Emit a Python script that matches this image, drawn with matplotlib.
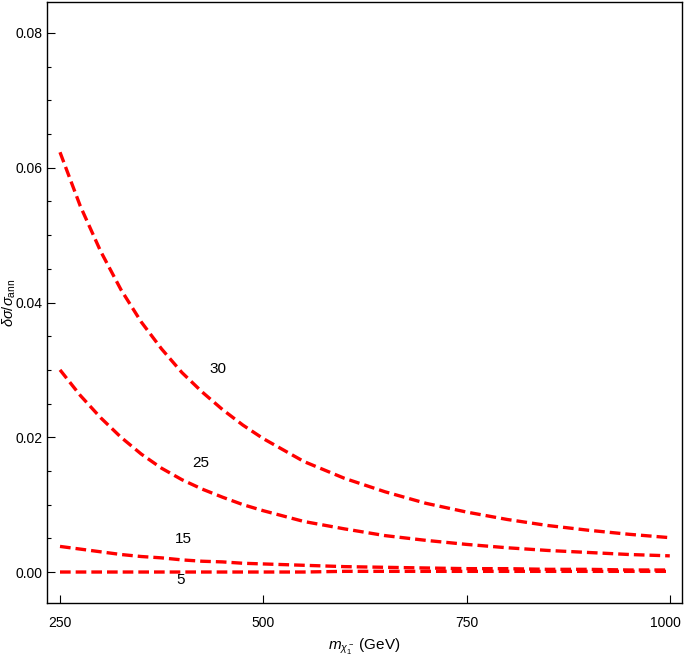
import matplotlib
matplotlib.use("Agg")
import matplotlib.pyplot as plt
from matplotlib.ticker import MultipleLocator, FixedLocator
from matplotlib.transforms import ScaledTranslation

mass = [250, 275, 300, 325, 350, 375, 400, 425, 450, 475, 500,
        550, 600, 650, 700, 750, 800, 850, 900, 950, 1000]
curve_30 = [0.0623, 0.0543, 0.0476, 0.0419, 0.0371, 0.0331, 0.0296, 0.0267, 0.0241, 0.0218, 0.0198,
            0.0164, 0.0139, 0.0119, 0.0102, 0.0089, 0.0078, 0.0069, 0.0062, 0.0056, 0.0051]
curve_25 = [0.0300, 0.0262, 0.0229, 0.0200, 0.0175, 0.0154, 0.0137, 0.0123, 0.0111, 0.0100, 0.0091,
            0.0075, 0.0064, 0.0054, 0.0047, 0.0041, 0.0036, 0.0032, 0.0029, 0.0026, 0.0024]
curve_15 = [0.0038, 0.0034, 0.0030, 0.0026, 0.0023, 0.0021, 0.0018, 0.0016, 0.0015, 0.0013, 0.0012,
            0.0010, 0.0008, 0.0007, 0.0006, 0.0005, 0.0005, 0.0004, 0.0004, 0.0003, 0.0003]
curve_5 = [0.0000, 0.0000, 0.0000, 0.0000, 0.0000, 0.0000, 0.0000, 0.0000, 0.0000, 0.0000, 0.0000,
           0.0000, 0.0001, 0.0001, 0.0001, 0.0001, 0.0001, 0.0001, 0.0001, 0.0001, 0.0001]
labels = ["30", "25", "15", "5"]
label_pos = [(444, 0.0301), (423, 0.0162), (402, 0.0049), (398, -0.0012)]
xticks = [250, 500, 750, 1000]
yticks = [0.00, 0.02, 0.04, 0.06, 0.08]

fam = "Liberation Sans"
plt.rcParams['font.family'] = [fam, 'DejaVu Sans']
plt.rcParams['mathtext.fontset'] = 'custom'
plt.rcParams['mathtext.rm'] = fam
plt.rcParams['mathtext.it'] = fam + ':italic'

fig = plt.figure(figsize=(6.85, 6.62), dpi=100)
ax = fig.add_axes([0.0686, 0.0891, 0.9956 - 0.0686, 0.997 - 0.0891])

for ys in (curve_30, curve_25, curve_15, curve_5):
    ax.plot(mass, ys, color='#ff0000', lw=2.4, dashes=(3.2, 1.5))

for t, (x, y) in zip(labels, label_pos):
    ax.text(x, y, t, fontsize=11, ha='center', va='center', color='black')

ax.set_xlim(234, 1015)
ax.set_ylim(-0.0046, 0.0846)
ax.xaxis.set_major_locator(FixedLocator(xticks))
ax.yaxis.set_major_locator(FixedLocator(yticks))
ax.yaxis.set_minor_locator(MultipleLocator(0.005))
ax.set_xticklabels([str(v) for v in xticks])
ax.set_yticklabels([f"{v:.2f}" for v in yticks])
ax.tick_params(axis='both', which='major', direction='in', length=5.5, width=0.8, labelsize=10)
ax.tick_params(axis='y', which='minor', direction='in', length=3, width=0.8)
ax.tick_params(axis='x', pad=9)
ax.tick_params(axis='y', pad=3)
for s in ax.spines.values():
    s.set_linewidth(1.0)

# nudge last x tick label slightly left so it stays inside the figure
lbl = ax.get_xticklabels()[-1]
lbl.set_transform(lbl.get_transform() + ScaledTranslation(-3 / 72, 0, fig.dpi_scale_trans))

ax.set_xlabel(r"$m_{\chi_1^-}$ (GeV)", fontsize=11)
ax.set_ylabel(r"$\delta\sigma/\sigma_{\mathrm{ann}}$", fontsize=10.5)
ax.yaxis.set_label_coords(-0.046, 0.5)
ax.xaxis.set_label_coords(0.5, -0.057)

fig.savefig("out.png", dpi=100)
